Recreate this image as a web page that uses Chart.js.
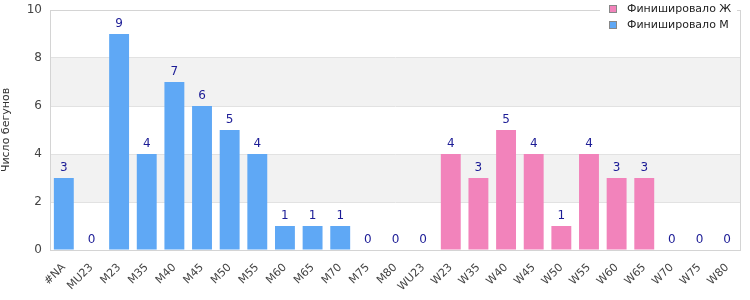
<!DOCTYPE html>
<html>
<head>
    <title>Финишировало по группам</title>
    <script src="https://cdn.jsdelivr.net/npm/chart.js"></script>
    <style>
        body { margin: 0; background: #fff; }
        #wrap { width: 750px; height: 300px; }
    </style>
</head>
<body>
    <div id="wrap"><canvas id="myChart"></canvas></div>
    <script>
      // categories and values
      const groups = ["#NA", "MU23", "M23", "M35", "M40", "M45", "M50", "M55", "M60", "M65", "M70", "M75", "M80",
                      "WU23", "W23", "W35", "W40", "W45", "W50", "W55", "W60", "W65", "W70", "W75", "W80"];
      const finishedM = [3, 0, 9, 4, 7, 6, 5, 4, 1, 1, 1, 0, 0, 0, null, null, null, null, null, null, null, null, null, null, null];
      const finishedW = [null, null, null, null, null, null, null, null, null, null, null, null, null, null, 4, 3, 5, 4, 1, 4, 3, 3, 0, 0, 0];
      const yTicks = [0, 2, 4, 6, 8, 10];

      const FONT = "DejaVu Sans";
      const blue = "#5fa8f5";
      const pink = "#f283bb";

      // grey bands between alternate ticks
      const bands = {
        id: "bands",
        beforeDraw(chart) {
          const { ctx, chartArea: a, scales: { y } } = chart;
          ctx.save();
          ctx.fillStyle = "#f2f2f2";
          for (let i = 1; i < yTicks.length - 1; i += 2) {
            const top = y.getPixelForValue(yTicks[i + 1]);
            const bot = y.getPixelForValue(yTicks[i]);
            ctx.fillRect(a.left, top, a.right - a.left, bot - top);
          }
          ctx.restore();
        },
        afterDraw(chart) {
          const { ctx, chartArea: a } = chart;
          ctx.save();
          ctx.strokeStyle = "#d4d4d4";
          ctx.lineWidth = 1;
          ctx.strokeRect(Math.round(a.left) + 0.5, Math.round(a.top) + 0.5,
                         Math.round(a.right - a.left) - 1, Math.round(a.bottom - a.top));
          ctx.restore();
        }
      };

      // value labels above the bars
      const valueLabels = {
        id: "valueLabels",
        afterDatasetsDraw(chart) {
          const { ctx } = chart;
          ctx.save();
          ctx.font = "12px '" + FONT + "'";
          ctx.fillStyle = "#1c1c96";
          ctx.textAlign = "center";
          ctx.textBaseline = "bottom";
          chart.data.datasets.forEach((ds, di) => {
            const meta = chart.getDatasetMeta(di);
            meta.data.forEach((bar, i) => {
              if (ds.data[i] === null) return;
              ctx.fillText(ds.data[i], bar.x, bar.y - 4);
            });
          });
          ctx.restore();
        }
      };

      // legend box in the top right corner
      const legendBox = {
        id: "legendBox",
        afterDraw(chart) {
          const { ctx, chartArea: a } = chart;
          const items = [["Финишировало Ж", pink], ["Финишировало М", blue]];
          ctx.save();
          ctx.fillStyle = "#fff";
          ctx.fillRect(a.right - 141, 0, 137, 34);
          ctx.font = "11px '" + FONT + "'";
          ctx.textBaseline = "middle";
          items.forEach((it, i) => {
            const yy = 9 + i * 16;
            ctx.strokeStyle = "#888";
            ctx.lineWidth = 1;
            ctx.strokeRect(a.right - 131.5, yy - 3.5, 7, 7);
            ctx.fillStyle = it[1];
            ctx.fillRect(a.right - 131, yy - 3, 6, 6);
            ctx.fillStyle = "#222";
            ctx.fillText(it[0], a.right - 114, yy);
          });
          ctx.restore();
        }
      };

      const ctx = document.getElementById("myChart");
      const mychart = new Chart(ctx, {
        type: "bar",
        data: {
          labels: groups,
          datasets: [
            { label: "Финишировало Ж", data: finishedW, backgroundColor: pink, borderWidth: 0 },
            { label: "Финишировало М", data: finishedM, backgroundColor: blue, borderWidth: 0 }
          ]
        },
        options: {
          responsive: true,
          maintainAspectRatio: false,
          animation: false,
          layout: { padding: { top: 0, right: 9, left: 0, bottom: 0 } },
          datasets: { bar: { barPercentage: 0.72, categoryPercentage: 1 } },
          plugins: { legend: { display: false }, tooltip: { enabled: false } },
          scales: {
            x: {
              stacked: true,
              grid: { display: false },
              border: { display: false },
              ticks: { color: "#444", font: { family: FONT, size: 11 }, minRotation: 45, maxRotation: 45, autoSkip: false, padding: 3 },
              afterFit(s) { s.height = 50; }
            },
            y: {
              stacked: true,
              min: 0,
              max: 10,
              afterBuildTicks(s) { s.ticks = yTicks.map(v => ({ value: v })); },
              grid: { color: "#e2e2e2", drawTicks: false },
              border: { display: false },
              ticks: { color: "#444", font: { family: FONT, size: 12 }, padding: 8 },
              title: { display: true, text: "Число бегунов", color: "#333", font: { family: FONT, size: 11 }, padding: 0 },
              afterFit(s) { s.width = 50; s.paddingTop = 10; }
            }
          }
        },
        plugins: [bands, valueLabels, legendBox]
      });
    </script>
</body>
</html>
